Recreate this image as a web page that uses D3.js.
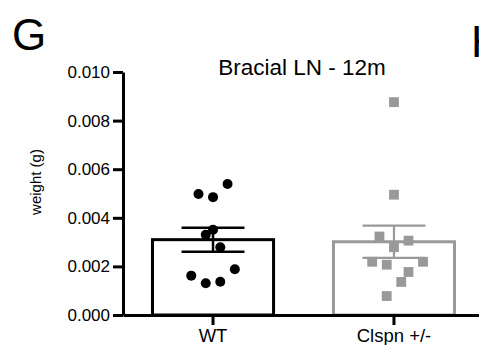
<!DOCTYPE html>
<html>
<head>
<meta charset="utf-8">
<script src="https://cdn.jsdelivr.net/npm/d3@7"></script>
<style>
  body{margin:0;background:#fff;}
  svg{display:block;font-family:"Liberation Sans",Arial,sans-serif;}
</style>
</head>
<body>
<svg id="canvas" width="479" height="345"></svg>
<script>
// groups and individual weights (g)
let groups=["WT","Clspn +/-"];
let wtValues=[0.00498,0.00485,0.00539,0.00351,0.00330,0.00279,0.00162,0.00131,0.00137,0.00188];
let clspnValues=[0.00876,0.00495,0.00323,0.00306,0.00279,0.00219,0.00207,0.00219,0.00177,0.00136,0.00078];
// scatter column of each point (beeswarm jitter, in dot columns)
let wtColumns=[-2,0,2,0,-1,1,-3,-1,1,3];
let clspnColumns=[0,0,-2,2,0,-3,-1,4,2,1,-1];
let yTicks=[0,0.002,0.004,0.006,0.008,0.010];

let colors={"WT":"#000","Clspn +/-":"#999"};
let series=[
    {name:groups[0],values:wtValues,cols:wtColumns},
    {name:groups[1],values:clspnValues,cols:clspnColumns}
];
series.forEach((s)=>{
    s.mean=d3.mean(s.values);
    s.sem=d3.deviation(s.values)/Math.sqrt(s.values.length);
});

let canvas=d3.select("#canvas");

let y=d3.scaleLinear().domain([0,0.010]).range([315,72]);
let x=d3.scaleBand().domain(groups).range([123,484]).paddingInner(0.331).paddingOuter(0.163);
let colStep=x.bandwidth()*0.06;

// bars
canvas.selectAll('rect.bar')
    .data(series)
    .enter()
    .append('rect')
    .attr('class','bar')
    .attr('x',(s)=>x(s.name))
    .attr('y',(s)=>y(s.mean))
    .attr('width',x.bandwidth())
    .attr('height',(s)=>y(0)-y(s.mean))
    .attr('fill','none')
    .attr('stroke',(s)=>colors[s.name])
    .attr('stroke-width',3);

// error bars
let capHalf=x.bandwidth()*0.26;
series.forEach((s)=>{
    let cx=x(s.name)+x.bandwidth()/2;
    let g=canvas.append('g')
        .attr('stroke',colors[s.name])
        .attr('stroke-width',s.name=="WT"?2.5:2.2);
    g.append('line').attr('x1',cx).attr('x2',cx)
        .attr('y1',y(s.mean-s.sem)).attr('y2',y(s.mean+s.sem));
    [s.mean-s.sem,s.mean+s.sem].forEach((v)=>{
        g.append('line').attr('x1',cx-capHalf).attr('x2',cx+capHalf)
            .attr('y1',y(v)).attr('y2',y(v));
    });
});

// points
series.forEach((s)=>{
    let cx=x(s.name)+x.bandwidth()/2;
    let pts=s.values.map((v,i)=>({v:v,c:s.cols[i]}));
    if(s.name=="WT"){
        canvas.append('g').selectAll('circle')
            .data(pts).enter().append('circle')
            .attr('cx',(p)=>cx+p.c*colStep)
            .attr('cy',(p)=>y(p.v))
            .attr('r',5)
            .attr('fill','#000');
    }else{
        canvas.append('g').selectAll('rect')
            .data(pts).enter().append('rect')
            .attr('x',(p)=>cx+p.c*colStep-4.9)
            .attr('y',(p)=>y(p.v)-4.9)
            .attr('width',9.8).attr('height',9.8)
            .attr('fill','#999');
    }
});

// axes
let yAxis=canvas.append('g')
    .attr('transform','translate(123,0)')
    .call(d3.axisLeft(y).tickValues(yTicks).tickFormat(d3.format('.3f')).tickSize(10).tickSizeOuter(0).tickPadding(3));
let xAxis=canvas.append('g')
    .attr('transform','translate(0,315)')
    .call(d3.axisBottom(x).tickSize(10).tickSizeOuter(0).tickPadding(4));
[yAxis,xAxis].forEach((a)=>{
    a.select('.domain').attr('stroke','#000').attr('stroke-width',3);
    a.selectAll('.tick line').attr('stroke','#000').attr('stroke-width',3);
    a.selectAll('text').attr('fill','#000').style('font-family','"Liberation Sans",Arial,sans-serif');
});
yAxis.selectAll('text').attr('font-size',17);
xAxis.selectAll('text').attr('font-size',18.5);

// labels
canvas.append('text')
    .attr('transform','translate(41,182) rotate(-90)')
    .attr('text-anchor','middle')
    .attr('font-size',15)
    .text('weight (g)');
canvas.append('text')
    .attr('x',302).attr('y',75)
    .attr('text-anchor','middle')
    .attr('font-size',22.5)
    .text('Bracial LN - 12m');
canvas.append('text')
    .attr('x',12).attr('y',50)
    .attr('font-size',44)
    .text('G');
canvas.append('text')
    .attr('x',471).attr('y',57)
    .attr('font-size',44)
    .text('H');
</script>
</body>
</html>
